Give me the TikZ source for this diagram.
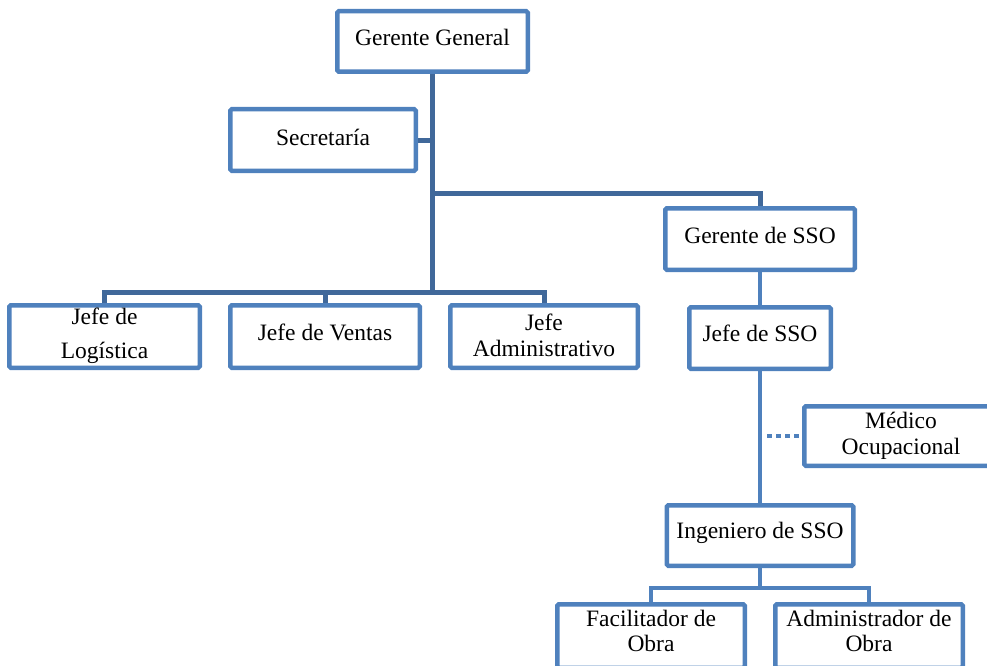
\documentclass[tikz,border=0pt]{standalone}
\usepackage{fontspec}
\setmainfont{Liberation Serif}
\definecolor{boxblue}{HTML}{4F81BD}
\definecolor{lineblue}{HTML}{40689A}
\tikzset{
  orgbox/.style={draw=boxblue, line width=4.5pt, fill=white, rounded corners=1.5pt, inner sep=0pt},
  lbl/.style={font=\fontsize{23.5}{25.5}\selectfont, align=center, inner sep=0pt},
  conn/.style={draw=lineblue, line width=5pt},
  conn2/.style={draw=boxblue, line width=4.5pt},
  dotconn/.style={draw=boxblue, line width=4.5pt, dash pattern=on 5pt off 4pt}
}
\begin{document}
\begin{tikzpicture}[x=1pt, y=-1pt]
\useasboundingbox (0,0) rectangle (987,666);
% boxes
\node[orgbox, minimum width=190.5pt, minimum height=60.5pt] (gg) at (432.5,41.5) {};
\node[orgbox, minimum width=185.5pt, minimum height=61.5pt] (sec) at (323,140) {};
\node[orgbox, minimum width=189.5pt, minimum height=61.5pt] (gsso) at (760,239) {};
\node[orgbox, minimum width=190.5pt, minimum height=62.5pt] (jlog) at (104.5,336.5) {};
\node[orgbox, minimum width=189.5pt, minimum height=62.5pt] (jven) at (325,336.5) {};
\node[orgbox, minimum width=187.5pt, minimum height=62.5pt] (jadm) at (544,336.5) {};
\node[orgbox, minimum width=141.5pt, minimum height=61.5pt] (jsso) at (760,338) {};
\node[orgbox, minimum width=193.5pt, minimum height=59.5pt] (med) at (901,436) {};
\node[orgbox, minimum width=186.5pt, minimum height=60.5pt] (ing) at (760,535.5) {};
\node[orgbox, minimum width=187.5pt, minimum height=63.5pt] (fac) at (651,636) {};
\node[orgbox, minimum width=187.5pt, minimum height=63.5pt] (adm) at (869,636) {};
% labels
\node[lbl] (tgg) at ([yshift=4pt]gg.center) {Gerente General};
\node[lbl] (tsec) at ([yshift=3pt]sec.center) {Secretaría};
\node[lbl] (tgsso) at ([yshift=4pt]gsso.center) {Gerente de SSO};
\node[lbl] (tjlog) at ([yshift=0.5pt]jlog.center) {Jefe de\\[8pt]Logística};
\node[lbl] (tjven) at ([yshift=4pt]jven.center) {Jefe de Ventas};
\node[lbl] (tjadm) at ([yshift=1pt]jadm.center) {Jefe\\Administrativo};
\node[lbl] (tjsso) at ([yshift=5pt]jsso.center) {Jefe de SSO};
\node[lbl] (tmed) at ([yshift=0pt]med.center) {Médico\\Ocupacional};
\node[lbl] (ting) at ([yshift=3pt]ing.center) {Ingeniero de SSO};
\node[lbl] (tfac) at ([yshift=5pt]fac.center) {Facilitador de\\Obra};
\node[lbl] (tadm) at ([yshift=5pt]adm.center) {Administrador de\\Obra};
% helper levels
\coordinate (br) at (0,193);
\coordinate (bus) at (0,292);
\coordinate (bus2) at (0,588);
% connectors
\draw[conn] (gg.south) -- (gg.south |- bus);
\draw[conn] (sec.east) -- (sec.east -| gg.south);
\draw[conn] (gg.south |- br) -- (gsso.north |- br) -- (gsso.north);
\draw[conn] (jlog.north) -- (jlog.north |- bus) -- (jadm.north |- bus) -- (jadm.north);
\draw[conn] (jven.north) -- (jven.north |- bus);
\draw[conn2] (gsso.south) -- (jsso.north);
\draw[conn2] (jsso.south) -- (ing.north);
\draw[dotconn] ([xshift=7pt]jsso.south |- med.west) -- (med.west);
\draw[conn2] (ing.south) -- (ing.south |- bus2);
\draw[conn2] (fac.north) -- (fac.north |- bus2) -- (adm.north |- bus2) -- (adm.north);
\end{tikzpicture}
\end{document}
